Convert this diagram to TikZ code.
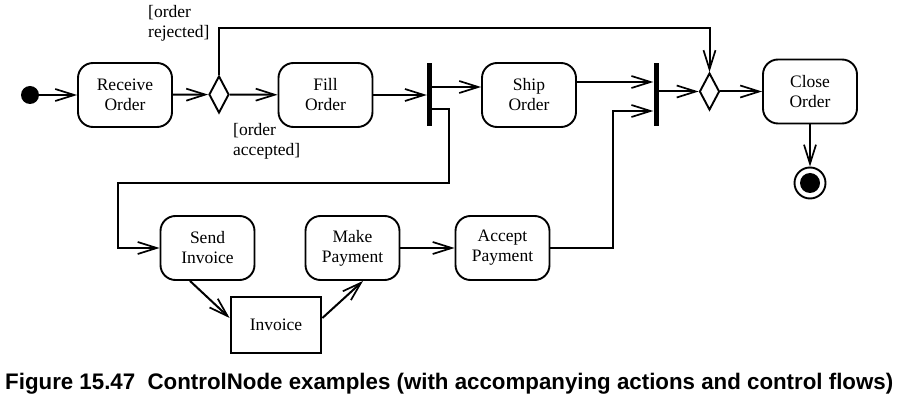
\documentclass[tikz,border=0pt]{standalone}
\usepackage{fontspec}
\usepackage{graphicx}
\setmainfont{Liberation Serif}
\newfontfamily\capfont{Liberation Sans}
\usetikzlibrary{shapes.geometric,arrows.meta,calc}
\tikzset{
  action/.style={draw, line width=1.9pt, rounded corners=15pt, minimum width=94pt, minimum height=64pt, inner sep=0pt, align=center, font=\fontsize{17.5}{20}\selectfont},
  objbox/.style={draw, line width=2.8pt, minimum width=90pt, minimum height=56pt, inner sep=0pt, font=\fontsize{17.5}{20}\selectfont},
  decision/.style={draw, line width=1.9pt, diamond, minimum width=20pt, minimum height=37pt, inner sep=0pt},
  bar/.style={fill=black, minimum width=5pt, minimum height=63pt, inner sep=0pt},
  flow/.style={line width=2pt, -{Straight Barb[length=19pt, width=12pt, line width=1.7pt]}},
  guard/.style={anchor=north west, inner sep=0pt, align=left, font=\fontsize{17.5}{20}\selectfont}
}
\begin{document}
\begin{tikzpicture}[x=1pt, y=-1pt]
\useasboundingbox (0,0) rectangle (905,403);
% nodes
\node[circle, fill=black, minimum size=18pt, inner sep=0pt] (init) at (30,95) {};
\node[action] (recv) at (125,95) {Receive\\Order};
\node[decision] (d1) at (219,94.5) {};
\node[action] (fill) at (325.5,95) {Fill\\Order};
\node[bar] (fork1) at (429.5,94.5) {};
\node[action] (ship) at (529,95) {Ship\\Order};
\node[bar] (fork2) at (656,94.5) {};
\node[decision] (d2) at (709.5,91.5) {};
\node[action] (close) at (810,91.5) {Close\\Order};
\node[circle, draw, line width=1.9pt, minimum size=31pt, inner sep=0pt,
  path picture={\fill (path picture bounding box.center) circle (10pt);}] (final) at (810,183) {};
\node[action] (send) at (207.5,248) {Send\\Invoice};
\node[action] (make) at (352.5,248) {Make\\Payment};
\node[action] (accept) at (502.5,248) {Accept\\Payment};
\node[objbox] (invoice) at (276,325) {Invoice};
% guards
\node[guard] (grej) at (148,5) {[order\\rejected]};
\node[guard] (gacc) at (233,123) {[order\\accepted]};
% flows
\draw[flow] (init) -- (recv);
\draw[flow] (recv) -- (d1);
\draw[flow] (d1) -- (fill);
\draw[flow] (fill.east) -- (fill.east -| fork1.west);
\draw[flow] (fork1.east |- 0,87) -- (ship.west |- 0,87);
\draw[flow] (fork1.east |- 0,109) -- (449,109) -- (449,183) -- (118,183) -- (118,248) -- (send.west);
\draw[flow] ($(send.south)+(-17.5,0)$) -- (invoice.west |- 0,318);
\draw[flow] (invoice.east |- 0,318) -- ($(make.south)+(10.5,0)$);
\draw[flow] (make) -- (accept);
\draw[flow] (accept.east) -- (613,248) -- (613,111) -- (fork2.west |- 0,111);
\draw[flow] (ship.east |- 0,82) -- (fork2.west |- 0,82);
\draw[flow] (fork2.east |- d2) -- (d2.west);
\draw[flow] (d2) -- (close);
\draw[flow] (close) -- (final);
\draw[flow] (d1.north) -- (d1.north |- 0,28) -| (d2.north);
% caption
\node[anchor=base west, inner sep=0pt] (cap) at (5,389) {\resizebox{888pt}{\height}{\capfont\fontsize{22.5}{26}\selectfont\bfseries Figure 15.47\ \ ControlNode examples (with accompanying actions and control flows)}};
\end{tikzpicture}
\end{document}
